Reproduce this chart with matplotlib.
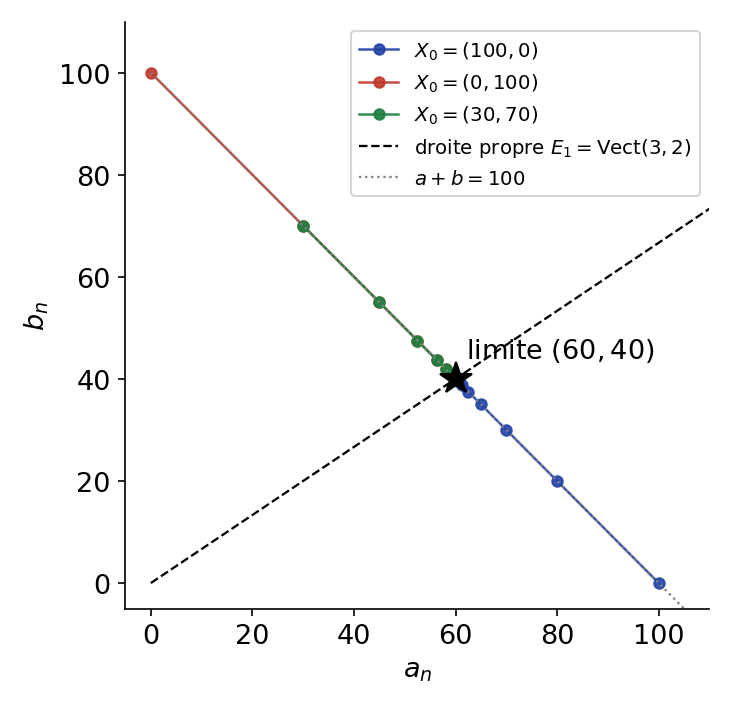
import numpy as np
import matplotlib
import matplotlib.pyplot as plt

matplotlib.use('Agg')

# sequences X_{n+1} = M X_n
A_BLUE = [100, 80, 70, 65, 62.5, 61.25, 60.625, 60.3125]
B_BLUE = [0, 20, 30, 35, 37.5, 38.75, 39.375, 39.6875]
A_RED = [0, 30, 45, 52.5, 56.25, 58.125, 59.0625, 59.53]
B_RED = [100, 70, 55, 47.5, 43.75, 41.875, 40.9375, 40.47]
A_GREEN = [30, 45, 52.5, 56.25, 58.125, 59.0625, 59.53, 59.77]
B_GREEN = [70, 55, 47.5, 43.75, 41.875, 40.9375, 40.47, 40.23]
LIMIT = (60, 40)

fig, ax = plt.subplots(figsize=(4.88, 4.713), dpi=150)

ax.plot(A_BLUE, B_BLUE, 'o-', color='#2443a8', ms=5, lw=1.2, alpha=0.9,
        label=r'$X_0 = (100, 0)$')
ax.plot(A_RED, B_RED, 'o-', color='#c0392b', ms=5, lw=1.2, alpha=0.9,
        label=r'$X_0 = (0, 100)$')
ax.plot(A_GREEN, B_GREEN, 'o-', color='#1e8040', ms=5, lw=1.2, alpha=0.9,
        label=r'$X_0 = (30, 70)$')

t = np.array([0, 110])
ax.plot(t, t * 2 / 3, '--', color='black', lw=1.1,
        label=r'droite propre $E_1 = \mathrm{Vect}(3, 2)$')
ax.plot(t, 100 - t, ':', color='gray', lw=1.1, label=r'$a + b = 100$')

ax.plot(*LIMIT, marker='*', color='black', ms=16, zorder=5)
ax.text(LIMIT[0] + 2, LIMIT[1] + 4, r'limite $(60, 40)$', fontsize=13)

ax.set_xlim(-5, 110)
ax.set_ylim(-5, 110)
ax.set_xlabel(r'$a_n$', fontsize=13)
ax.set_ylabel(r'$b_n$', fontsize=13)
ax.tick_params(labelsize=13)
ax.spines['top'].set_visible(False)
ax.spines['right'].set_visible(False)
ax.legend(loc='upper right', fontsize=9.5)

fig.tight_layout()
fig.savefig('out.png', dpi=150)
